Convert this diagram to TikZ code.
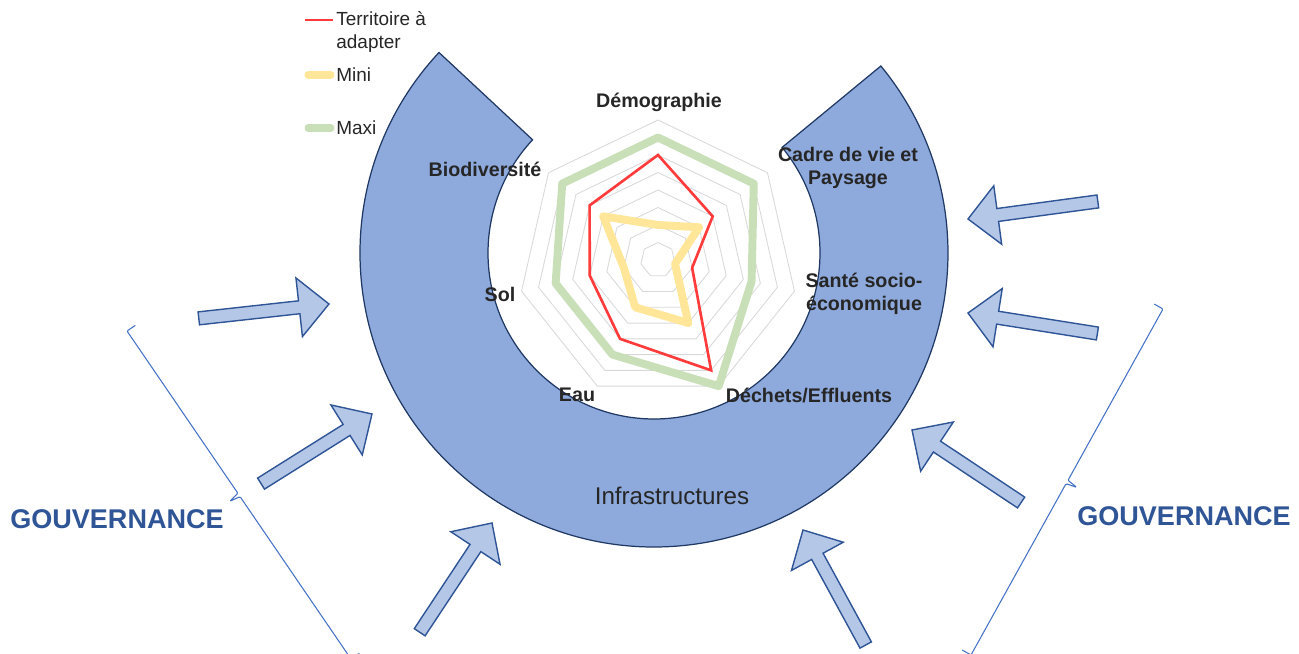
\documentclass[tikz,border=0pt]{standalone}
\usepackage{fontspec}
\setmainfont{Liberation Sans}
\definecolor{ringfill}{HTML}{8EA9DB}
\definecolor{ringline}{HTML}{1F3864}
\definecolor{arrowfill}{HTML}{B4C7E7}
\definecolor{govblue}{HTML}{2F5597}
\definecolor{bracketblue}{HTML}{4472C4}
\definecolor{terrred}{HTML}{FF3B3B}
\definecolor{minyellow}{HTML}{FFE699}
\definecolor{maxgreen}{HTML}{C8DFB8}
\definecolor{gridgray}{HTML}{D9D9D9}
\definecolor{labelgray}{HTML}{262626}

\begin{document}
\begin{tikzpicture}[x=0.02cm, y=0.02cm,
  ring/.style={fill=ringfill, draw=ringline, line width=0.7pt},
  gridline/.style={draw=gridgray, line width=0.5pt},
  terr/.style={draw=terrred, line width=1.5pt},
  mini/.style={draw=minyellow, line width=4.5pt, line join=round, line cap=round},
  maxi/.style={draw=maxgreen, line width=4.5pt, line join=round, line cap=round},
  axislbl/.style={font=\bfseries\fontsize{11.2}{13}\selectfont, text=labelgray, align=center, inner sep=0pt},
  leglbl/.style={font=\fontsize{10.8}{13}\selectfont, text=labelgray, align=left, anchor=west, inner sep=0pt},
  govarr/.style={fill=arrowfill, draw=govblue, line width=0.8pt},
  gov/.style={font=\bfseries\fontsize{15.4}{18}\selectfont, text=govblue},
  bracket/.style={draw=bracketblue, line width=0.6pt, rounded corners=0.6pt},
]
  \useasboundingbox (0,0) rectangle (1299,653);
  \coordinate (ring) at (654,400);
  \coordinate (radar) at (658,393);

  % Infrastructures ring
  \draw[ring] ([shift={(137:294)}]ring) arc[start angle=137, end angle=399.5, radius=294]
    -- ([shift={(39.5:166)}]ring) arc[start angle=399.5, end angle=137, radius=166] -- cycle;
  \node[font=\fontsize{13.75}{16}\selectfont, text=labelgray] (infra) at (672,157) {Infrastructures};

  % Radar grid and series
  \begin{scope}[shift={(radar)}]
    \foreach \k in {1,...,8}
      \draw[gridline] (90:{\k*17.5}) \foreach \a in {38.571,-12.857,-64.286,-115.714,-167.143,141.429} { -- (\a:{\k*17.5}) } -- cycle;
    \draw[maxi] (90:122.5) -- (38.571:122.5) -- (-12.857:96) -- (-64.286:140) -- (-115.714:105) -- (-167.143:105) -- (141.429:122.5) -- cycle;
    \draw[mini] (90:35) -- (38.571:52.5) -- (-12.857:17.5) -- (-64.286:70) -- (-115.714:52.5) -- (-167.143:35) -- (141.429:70) -- cycle;
    \draw[terr] (90:105) -- (38.571:70) -- (-12.857:35) -- (-64.286:122.5) -- (-115.714:87.5) -- (-167.143:70) -- (141.429:87.5) -- cycle;
  \end{scope}

  % Axis labels
  \node[axislbl] (dem) at (659,551) {Démographie};
  \node[axislbl] (cadre) at (848,485) {Cadre de vie et\\Paysage};
  \node[axislbl] (sante) at (864,359) {Santé socio-\\économique};
  \node[axislbl] (dechets) at (809,258) {Déchets/Effluents};
  \node[axislbl] (eau) at (577,258) {Eau};
  \node[axislbl] (sol) at (500,359) {Sol};
  \node[axislbl] (biodiv) at (485,484) {Biodiversité};

  % Legend
  \draw[terr] (305,633) -- (333,633);
  \node[leglbl] (legterr) at (336,621) {Territoire à\\adapter};
  \draw[mini, line width=4pt] (308,578) -- (331,578);
  \node[leglbl] (legmini) at (336,578) {Mini};
  \draw[maxi, line width=4pt] (308,525) -- (331,525);
  \node[leglbl] (legmaxi) at (336,525) {Maxi};

  % Governance arrows
  \foreach \tx/\ty/\ang in {329/349/6.3, 372/239/32.1, 492/130/56.5, 803/123/118.6,
                            912/223/146.4, 968/340/171, 968/434/187.7}
    \draw[govarr, shift={(\tx,\ty)}, rotate=\ang] (0,0) -- (-30,29.5) -- (-30,6.5) -- (-131,6.5)
      -- (-131,-6.5) -- (-30,-6.5) -- (-30,-29.5) -- cycle;

  % Brackets
  \draw[bracket] (135.3,327.6) -- (127,322) -- (237.9,159.7) -- (229.9,151.8)
    -- (240.1,156.3) -- (351,-6) -- (359.3,-0.4);
  \draw[bracket] (1154.3,348.9) -- (1163,344) -- (1068,172.7) -- (1076.6,165.7)
    -- (1066,169.3) -- (971,-2) -- (962.3,2.9);
  \node[gov] (govl) at (117,134) {GOUVERNANCE};
  \node[gov] (govr) at (1184,137) {GOUVERNANCE};
\end{tikzpicture}
\end{document}
